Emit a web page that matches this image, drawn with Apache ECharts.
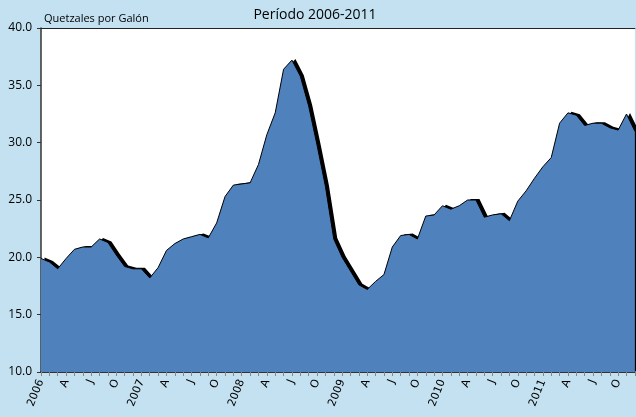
<!DOCTYPE html>
<html><head><meta charset="utf-8">
<script src="https://cdn.jsdelivr.net/npm/echarts@6/dist/echarts.min.js"></script>
<style>html,body{margin:0;padding:0;background:#c3e1f0;}#c{width:636px;height:417px;}</style>
</head><body><div id="c"></div>
<script>
var years = ['2006','2007','2008','2009','2010','2011'];
var quarterLabels = ['', 'A', 'J', 'O'];
var prices = [
  19.9, 19.6, 19.0, 19.9, 20.7, 20.9, 20.9, 21.6, 21.3, 20.2, 19.2, 19.0,
  19.0, 18.2, 19.1, 20.6, 21.2, 21.6, 21.8, 22.0, 21.7, 23.0, 25.3, 26.3,
  26.4, 26.5, 28.1, 30.7, 32.6, 36.4, 37.2, 35.8, 33.2, 29.8, 26.2, 21.6,
  20.0, 18.8, 17.6, 17.2, 17.9, 18.5, 20.9, 21.9, 22.0, 21.6, 23.6, 23.7,
  24.5, 24.2, 24.5, 25.0, 25.0, 23.5, 23.7, 23.8, 23.2, 24.9, 25.8, 26.9,
  27.9, 28.7, 31.7, 32.6, 32.4, 31.5, 31.7, 31.7, 31.3, 31.1, 32.5, 31.0
];
var yTicks = [10, 15, 20, 25, 30, 35, 40];

var categories = [];
years.forEach(function (y) {
  for (var m = 0; m < 12; m++) {
    categories.push(m === 0 ? y : (m % 3 === 0 ? quarterLabels[m / 3] : ''));
  }
});

var chart = echarts.init(document.getElementById('c'));
chart.setOption({
  backgroundColor: '#c3e1f0',
  animation: false,
  title: [
    { text: 'Período 2006-2011', left: 310, top: 3, textAlign: 'center',
      textStyle: { fontFamily: 'Open Sans', fontSize: 14, fontWeight: 'normal', color: '#000' } },
    { text: 'Quetzales por Galón', left: 39, top: 8,
      textStyle: { fontFamily: 'Open Sans', fontSize: 11, fontWeight: 'normal', color: '#000' } }
  ],
  grid: { left: 41, top: 28, width: 599, height: 344, show: true,
          backgroundColor: '#ffffff', borderWidth: 0 },
  xAxis: [{
    type: 'category', data: categories, boundaryGap: false,
    axisLine: { lineStyle: { color: '#333', width: 2 } },
    axisTick: { show: true, interval: 0, length: 4, lineStyle: { color: '#888' } },
    axisLabel: { interval: 0, rotate: 68, margin: 8, fontFamily: 'DejaVu Sans', fontSize: 11, color: '#000' },
    splitLine: { show: false }
  }, {
    type: 'category', data: categories, boundaryGap: false, position: 'top',
    axisLine: { show: true, lineStyle: { color: '#222', width: 1 } },
    axisTick: { show: false }, axisLabel: { show: false }, splitLine: { show: false }
  }],
  yAxis: {
    type: 'value', min: yTicks[0], max: yTicks[yTicks.length - 1], interval: 5,
    axisLine: { show: true, lineStyle: { color: '#333', width: 1.5 } },
    axisTick: { show: true, length: 4, lineStyle: { color: '#333' } },
    axisLabel: { margin: 9, fontFamily: 'Open Sans', fontSize: 12, color: '#000',
      formatter: function (v) { return v.toFixed(1); } },
    splitLine: { show: false }
  },
  series: [{
    type: 'line', data: prices, symbol: 'none', smooth: false, xAxisIndex: 0,
    lineStyle: { color: '#000', width: 1 },
    areaStyle: { color: '#4f81bd', opacity: 1, shadowColor: '#000', shadowBlur: 0, shadowOffsetX: 3.5, shadowOffsetY: -1 }
  }]
});
</script></body></html>
